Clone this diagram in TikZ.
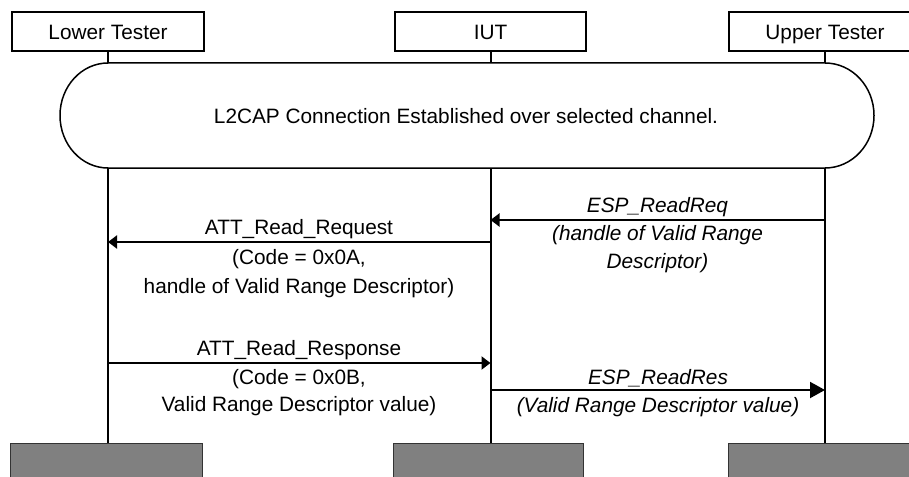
\documentclass[tikz,border=0pt]{standalone}
\usepackage{fontspec}
\setmainfont{Liberation Sans}
\usetikzlibrary{arrows.meta}
\tikzset{
  hdr/.style={draw=black, line width=1.3pt, fill=white, minimum width=192pt, minimum height=39pt, inner sep=0pt, text height=18pt, text depth=2pt, font=\fontsize{20.8}{24}\selectfont},
  foot/.style={draw=black!80, line width=0.8pt, fill=black!50, inner sep=0pt},
  life/.style={line width=2pt},
  msg/.style={line width=2pt, -{Triangle[length=9pt,width=13pt]}},
  msgbig/.style={line width=2pt, -{Triangle[length=15pt,width=16pt]}},
  lbl/.style={anchor=base, inner sep=0pt, font=\fontsize{20.8}{24}\selectfont},
  lbli/.style={lbl, font=\fontsize{20.8}{24}\selectfont\itshape},
}
\begin{document}
\begin{tikzpicture}[x=1pt,y=-1pt]
\useasboundingbox (0,0) rectangle (909,476);
% headers
\node[hdr] (lt) at (108,31.5) {Lower Tester};
\node[hdr, minimum width=191pt] (iut) at (490.5,31.5) {IUT};
\node[hdr] (ut) at (825,31.5) {Upper Tester};
% footers
\node[foot, minimum width=192pt, minimum height=40pt, anchor=north west] (ltf) at (10,443) {};
\node[foot, minimum width=190pt, minimum height=40pt, anchor=north west] (iutf) at (393,443) {};
\node[foot, minimum width=200pt, minimum height=40pt, anchor=north west] (utf) at (728,443) {};
% lifelines
\draw[life] (lt.south) -- (lt.south |- ltf.north);
\draw[life] (iut.south -| 490.5,0) -- (490.5,443);
\draw[life] (ut.south) -- (ut.south |- utf.north);
% rounded state box
\draw[line width=1.5pt, fill=white] (108,63) -- (825,63)
  arc[start angle=90, end angle=-90, x radius=49pt, y radius=52.5pt]
  -- (108,168)
  arc[start angle=270, end angle=90, x radius=48pt, y radius=52.5pt] -- cycle;
\node[lbl, anchor=center] (est) at (466,116) {L2CAP Connection Established over selected channel.};
% message coordinates
\coordinate (u1) at (825,220); \coordinate (i1) at (490.5,220);
\coordinate (i2) at (490.5,242); \coordinate (l2) at (108,242);
\coordinate (l3) at (108,363); \coordinate (i3) at (490.5,363);
\coordinate (i4) at (490.5,390); \coordinate (u4) at (825,390);
\draw[msg] (u1) -- (i1);
\draw[msg] (i2) -- (l2);
\draw[msg] (l3) -- (i3);
\draw[msgbig] (i4) -- (u4);
% labels
\node[lbli] (m1a) at (657.5,212.5) {ESP\_ReadReq};
\node[lbli] (m1b) at (657.5,240.5) {(handle of Valid Range};
\node[lbli] (m1c) at (657.5,268.5) {Descriptor)};
\node[lbl] (m2a) at (299,234.5) {ATT\_Read\_Request};
\node[lbl] (m2b) at (299,264.5) {(Code = 0x0A,};
\node[lbl] (m2c) at (299,293) {handle of Valid Range Descriptor)};
\node[lbl] (m3a) at (299,355.5) {ATT\_Read\_Response};
\node[lbl] (m3b) at (299,384.5) {(Code = 0x0B,};
\node[lbl] (m3c) at (299,411.5) {Valid Range Descriptor value)};
\node[lbli] (m4a) at (658,384) {ESP\_ReadRes};
\node[lbli] (m4b) at (658,412) {(Valid Range Descriptor value)};
\end{tikzpicture}
\end{document}
